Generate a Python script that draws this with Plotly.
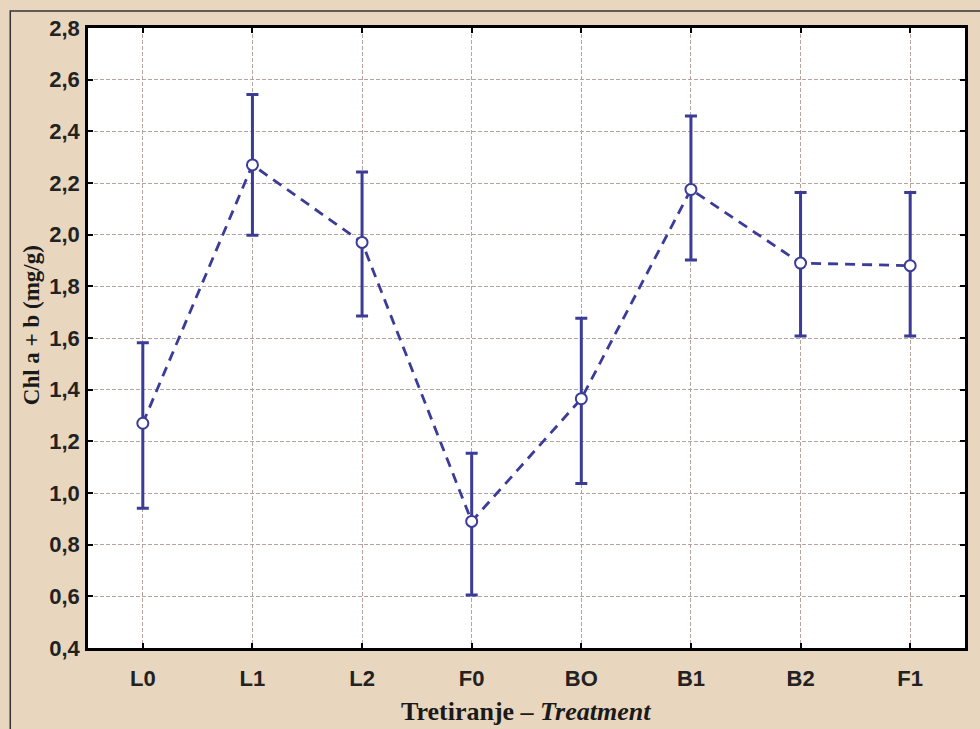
import plotly.graph_objects as go

categories = ["L0", "L1", "L2", "F0", "BO", "B1", "B2", "F1"]
means = [1.27, 2.27, 1.97, 0.89, 1.365, 2.175, 1.89, 1.88]
upper = [1.582, 2.543, 2.243, 1.154, 1.676, 2.459, 2.163, 2.163]
lower = [0.941, 1.998, 1.685, 0.605, 1.037, 1.902, 1.608, 1.608]
y_ticks = [0.4, 0.6, 0.8, 1.0, 1.2, 1.4, 1.6, 1.8, 2.0, 2.2, 2.4, 2.6, 2.8]
y_tick_text = [f"{v:.1f}".replace(".", ",") for v in y_ticks]

err_plus = [u - m for u, m in zip(upper, means)]
err_minus = [m - l for m, l in zip(means, lower)]

blue = "#3b3b98"
beige = "#e9d6be"
grid = "#b5a3a0"
x_idx = list(range(len(categories)))

fig = go.Figure()
fig.add_trace(go.Scatter(
    x=x_idx, y=means,
    mode="lines+markers",
    line=dict(color=blue, width=2.8, dash="10px,7px"),
    marker=dict(symbol="circle", size=11, color="white",
                line=dict(color=blue, width=2)),
    error_y=dict(type="data", symmetric=False, array=err_plus,
                 arrayminus=err_minus, color=blue, thickness=3, width=6),
    showlegend=False,
))

tick_font = dict(size=22, family="Liberation Sans, Arial, sans-serif", weight="bold", color="#222222")

fig.update_layout(
    width=980, height=729,
    margin=dict(l=88, r=12, t=28, b=81),
    paper_bgcolor=beige,
    plot_bgcolor="white",
    font=dict(family="Liberation Sans, Arial, sans-serif", color="#222222"),
    xaxis=dict(
        range=[-0.5, 7.5],
        tickmode="array", tickvals=x_idx, ticktext=categories,
        tickfont=tick_font,
        ticks="inside", ticklen=5, tickwidth=2, tickcolor="black",
        showline=True, linecolor="black", linewidth=2.5, mirror="ticks",
        showgrid=True, gridcolor=grid, gridwidth=1, griddash="4px,2px",
        zeroline=False, ticklabelstandoff=9,
    ),
    yaxis=dict(
        range=[0.4, 2.8],
        tickmode="array", tickvals=y_ticks, ticktext=y_tick_text,
        tickfont=tick_font,
        ticks="inside", ticklen=5, tickwidth=2, tickcolor="black",
        showline=True, linecolor="black", linewidth=2.5, mirror="ticks",
        showgrid=True, gridcolor=grid, gridwidth=1, griddash="4px,2px",
        zeroline=False, ticklabelstandoff=1,
    ),
    shapes=[dict(type="rect", xref="paper", yref="paper",
                 x0=-78/880, x1=1.2, y0=-0.3, y1=(648-11)/620,
                 line=dict(color="#333333", width=1.5), fillcolor="rgba(0,0,0,0)",
                 layer="below")],
    annotations=[
        dict(text="Tretiranje – <i>Treatment</i>", xref="paper", yref="paper",
             x=(527-88)/880, y=-(711-648)/620, xanchor="center", yanchor="middle",
             showarrow=False,
             font=dict(family="Liberation Serif, Times New Roman, serif", size=26,
                       color="#1a1a1a", weight="bold")),
        dict(text="Chl a + b (mg/g)", xref="paper", yref="paper",
             x=-(88-31)/880, y=(648-325)/620, xanchor="center", yanchor="middle",
             textangle=-90, showarrow=False,
             font=dict(family="Liberation Serif, Times New Roman, serif", size=23,
                       color="#1a1a1a", weight="bold")),
    ],
)

fig.write_html("out.html")
